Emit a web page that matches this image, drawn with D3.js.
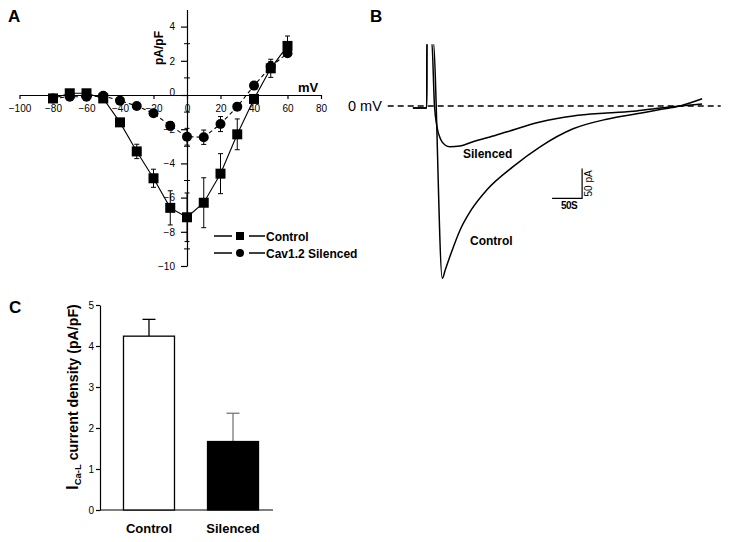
<!DOCTYPE html>
<html><head><meta charset="utf-8">
<script src="https://cdn.jsdelivr.net/npm/d3@7"></script>
<style>
body{margin:0;background:#fff;}
svg{font-family:"Liberation Sans",Arial,sans-serif;}
</style></head>
<body><svg id="c" width="729" height="542"></svg>
<script>
// ---------- Panel A data (I-V curve) ----------
const voltages   = [-80,-70,-60,-50,-40,-30,-20,-10,0,10,20,30,40,50,60];
const controlIV  = [-0.2,0.1,0.1,-0.2,-1.6,-3.3,-4.87,-6.6,-7.15,-6.3,-4.6,-2.3,-0.23,1.56,2.87];
const controlErr = [0.05,0.05,0.05,0.05,0.15,0.42,0.53,1.0,1.42,1.46,1.17,0.9,0.1,0.53,0.58];
const silencedIV = [-0.2,-0.1,-0.1,-0.05,-0.33,-0.64,-1.07,-1.8,-2.44,-2.47,-1.7,-0.68,0.55,1.66,2.44];
const silencedErr= [0.05,0.05,0.05,0.05,0.05,0.05,0.1,0.25,0.49,0.42,0.44,0.2,0.1,0.3,0.1];
const xTicksA = [-100,-80,-60,-40,-20,0,20,40,60,80];
const yTicksA = [-10,-8,-6,-4,-2,0,2,4];
const yMinorA = [-9,-7,-5,-3,-1,1,3];
const legendA = ["Control","Cav1.2 Silenced"];

// ---------- Panel B data (current traces) ----------
const controlT = [-23,-12,0,0.3,10.5,26,31,39,55.5,75,100,144,189,244,300,350,389,422,459];
const controlI = [-3.3,-3.3,-3.3,110,110,-287,-273,-250,-207,-172,-140,-101,-68,-38,-22,-13,-6,0,12];
const silencedT = [-23,-12,0,0.3,8.3,13,17.2,23.8,30.5,38.8,55.5,77,105.5,134,189,244,300,350,389,422,459];
const silencedI = [-3.3,-3.3,-3.3,110,110,0,-35,-56.7,-65,-68,-66.7,-59.5,-51.7,-43,-26.7,-16.7,-11.7,-8.3,-3.3,0,3.3];

// ---------- Panel C data (bar chart) ----------
const groups   = ["Control","Silenced"];
const density  = [4.24,1.67];
const densErr  = [0.41,0.69];
const yTicksC  = [0,1,2,3,4,5];

const svg = d3.select("#c");
const FONT = '"Liberation Sans",Arial,sans-serif';

// ================= Panel A =================
const xA = d3.scaleLinear().domain([-100,80]).range([19.5,321]);
const yA = d3.scaleLinear().domain([-10,5]).range([266,9.5]);
const gA = svg.append("g");

svg.append("text").attr("x",8).attr("y",22).attr("font-size",17).attr("font-weight","bold").text("A");

const xAxisA = gA.append("g").attr("transform",`translate(0,${yA(0)})`)
  .call(d3.axisBottom(xA).tickValues(xTicksA).tickSize(4).tickSizeOuter(0).tickPadding(6));
const yAxisA = gA.append("g").attr("transform",`translate(${xA(0)},0)`)
  .call(d3.axisLeft(yA).tickValues(yTicksA).tickSize(6).tickSizeOuter(0).tickPadding(6));
[xAxisA,yAxisA].forEach(a=>{
  a.selectAll("path,line").attr("stroke","#000").attr("stroke-width",1.2);
  a.selectAll("text").attr("font-size",10).attr("font-family",FONT).attr("fill","#000");
});
yAxisA.selectAll(".tick").filter(d=>d===0).select("text").attr("dy","0.05em");
gA.selectAll(".minorA").data(yMinorA).enter().append("line")
  .attr("x1",xA(0)-3).attr("x2",xA(0)+3).attr("y1",d=>yA(d)).attr("y2",d=>yA(d))
  .attr("stroke","#000").attr("stroke-width",1);

gA.append("text").attr("x",298).attr("y",92).attr("font-size",13).attr("font-weight","bold").text("mV");
gA.append("text").attr("transform",`translate(163,48) rotate(-90)`).attr("text-anchor","middle")
  .attr("font-size",12).attr("font-weight","bold").text("pA/pF");

const ctrlData = voltages.map((v,i)=>({v, y:controlIV[i], e:controlErr[i]}));
const silData  = voltages.map((v,i)=>({v, y:silencedIV[i], e:silencedErr[i]}));
const lineA = d3.line().x(d=>xA(d.v)).y(d=>yA(d.y));

function errBars(data){
  const g = gA.append("g").attr("stroke","#000").attr("stroke-width",1);
  data.forEach(d=>{
    g.append("line").attr("x1",xA(d.v)).attr("x2",xA(d.v)).attr("y1",yA(d.y-d.e)).attr("y2",yA(d.y+d.e));
    [d.y-d.e,d.y+d.e].forEach(q=>g.append("line").attr("x1",xA(d.v)-2.5).attr("x2",xA(d.v)+2.5).attr("y1",yA(q)).attr("y2",yA(q)));
  });
}
errBars(silData);
errBars(ctrlData);
gA.append("path").datum(silData).attr("d",lineA).attr("fill","none").attr("stroke","#000")
  .attr("stroke-width",1.1).attr("stroke-dasharray","4,3");
gA.append("path").datum(ctrlData).attr("d",lineA).attr("fill","none").attr("stroke","#000").attr("stroke-width",1.1);
gA.selectAll(".sc").data(silData).enter().append("circle")
  .attr("cx",d=>xA(d.v)).attr("cy",d=>yA(d.y)).attr("r",5).attr("fill","#000");
gA.selectAll(".sq").data(ctrlData).enter().append("rect")
  .attr("x",d=>xA(d.v)-5).attr("y",d=>yA(d.y)-5).attr("width",10).attr("height",10).attr("fill","#000");

// legend
const legY = [236,253];
legendA.forEach((name,i)=>{
  const g = gA.append("g");
  g.append("line").attr("x1",214).attr("x2",232).attr("y1",legY[i]).attr("y2",legY[i]).attr("stroke","#000").attr("stroke-width",1.5);
  g.append("line").attr("x1",249).attr("x2",265).attr("y1",legY[i]).attr("y2",legY[i]).attr("stroke","#000").attr("stroke-width",1.5);
  if(i===0) g.append("rect").attr("x",236).attr("y",legY[i]-4).attr("width",8).attr("height",8).attr("fill","#000");
  else g.append("circle").attr("cx",240).attr("cy",legY[i]).attr("r",4).attr("fill","#000");
  g.append("text").attr("x",266).attr("y",legY[i]+4.5).attr("font-size",12).attr("font-weight","bold").text(name);
});

// ================= Panel B =================
const xB = d3.scaleLinear().domain([-65,490]).range([426.7-65*0.6, 426.7+490*0.6]);
const yB = d3.scaleLinear().domain([-300,110]).range([106+300*0.6, 106-110*0.6]);
const gB = svg.append("g");
svg.append("text").attr("x",370).attr("y",22).attr("font-size",17).attr("font-weight","bold").text("B");

svg.append("defs").append("clipPath").attr("id","clipB").append("rect")
  .attr("x",380).attr("y",yB(103)).attr("width",349).attr("height",300);

gB.append("line").attr("x1",xB(-65)).attr("x2",xB(490)).attr("y1",yB(0)).attr("y2",yB(0))
  .attr("stroke","#000").attr("stroke-width",1.3).attr("stroke-dasharray","6,4");
gB.append("text").attr("x",348).attr("y",yB(0)+5).attr("font-size",14.5).text("0 mV");

const lineB = d3.line().x(d=>xB(d[0])).y(d=>yB(d[1])).curve(d3.curveMonotoneX);
const tr = gB.append("g").attr("clip-path","url(#clipB)");
tr.append("path").datum(silencedT.map((t,i)=>[t,silencedI[i]])).attr("d",lineB)
  .attr("fill","none").attr("stroke","#000").attr("stroke-width",1.5);
tr.append("path").datum(controlT.map((t,i)=>[t,controlI[i]])).attr("d",lineB)
  .attr("fill","none").attr("stroke","#000").attr("stroke-width",1.5);

gB.append("text").attr("x",463).attr("y",158).attr("font-size",12).attr("font-weight","bold").text("Silenced");
gB.append("text").attr("x",470).attr("y",245).attr("font-size",12).attr("font-weight","bold").text("Control");

// scale bar: 50 units each way
gB.append("path").attr("d",`M${xB(209)},${yB(-154)}H${xB(259)}V${yB(-104)}`)
  .attr("fill","none").attr("stroke","#000").attr("stroke-width",1.2);
gB.append("text").attr("x",(xB(209)+xB(259))/2+2).attr("y",yB(-154)+11).attr("text-anchor","middle")
  .attr("font-size",10).attr("font-weight","bold").attr("letter-spacing","-0.5").text("50S");
gB.append("text").attr("transform",`translate(${xB(259)+10},${(yB(-154)+yB(-104))/2}) rotate(-90)`)
  .attr("text-anchor","middle").attr("font-size",10).text("50 pA");

// ================= Panel C =================
const yC = d3.scaleLinear().domain([0,5]).range([510,305]);
const xC = d3.scaleBand().domain(groups).range([104.5,277.5]).paddingInner(0.393).paddingOuter(0.226);
const gC = svg.append("g");
svg.append("text").attr("x",9).attr("y",313).attr("font-size",17).attr("font-weight","bold").text("C");

const yAxisC = gC.append("g").attr("transform","translate(100,0)")
  .call(d3.axisLeft(yC).tickValues(yTicksC).tickFormat(d3.format("d")).tickSize(4).tickSizeOuter(0).tickPadding(2));
yAxisC.selectAll("path,line").attr("stroke","#000").attr("stroke-width",1.2);
yAxisC.selectAll("text").attr("font-size",10).attr("font-family",FONT).attr("fill","#000");
gC.append("line").attr("x1",100).attr("x2",273).attr("y1",yC(0)).attr("y2",yC(0)).attr("stroke","#000").attr("stroke-width",1.2);

groups.forEach((g,i)=>{
  const cx = xC(g)+xC.bandwidth()/2;
  const col = i===0 ? "#000" : "#777";
  gC.append("line").attr("x1",cx).attr("x2",cx).attr("y1",yC(density[i])).attr("y2",yC(density[i]+densErr[i]))
    .attr("stroke",col).attr("stroke-width",1.3);
  gC.append("line").attr("x1",cx-6.5).attr("x2",cx+6.5).attr("y1",yC(density[i]+densErr[i])).attr("y2",yC(density[i]+densErr[i]))
    .attr("stroke",col).attr("stroke-width",1.3);
  gC.append("rect").attr("x",xC(g)).attr("y",yC(density[i])).attr("width",xC.bandwidth()).attr("height",yC(0)-yC(density[i]))
    .attr("fill",i===0?"#fff":"#000").attr("stroke","#000").attr("stroke-width",1.3);
  gC.append("text").attr("x",cx).attr("y",533).attr("text-anchor","middle").attr("font-size",13).attr("font-weight","bold").text(g);
});

const lab = gC.append("text").attr("transform","translate(78,397) rotate(-90)").attr("text-anchor","middle")
  .attr("font-size",14.2).attr("font-weight","bold");
lab.append("tspan").attr("font-size",16).text("I");
lab.append("tspan").attr("font-size",9.5).attr("dy",3).text("Ca-L");
lab.append("tspan").attr("dy",-3).text(" current density (pA/pF)");
</script></body></html>
